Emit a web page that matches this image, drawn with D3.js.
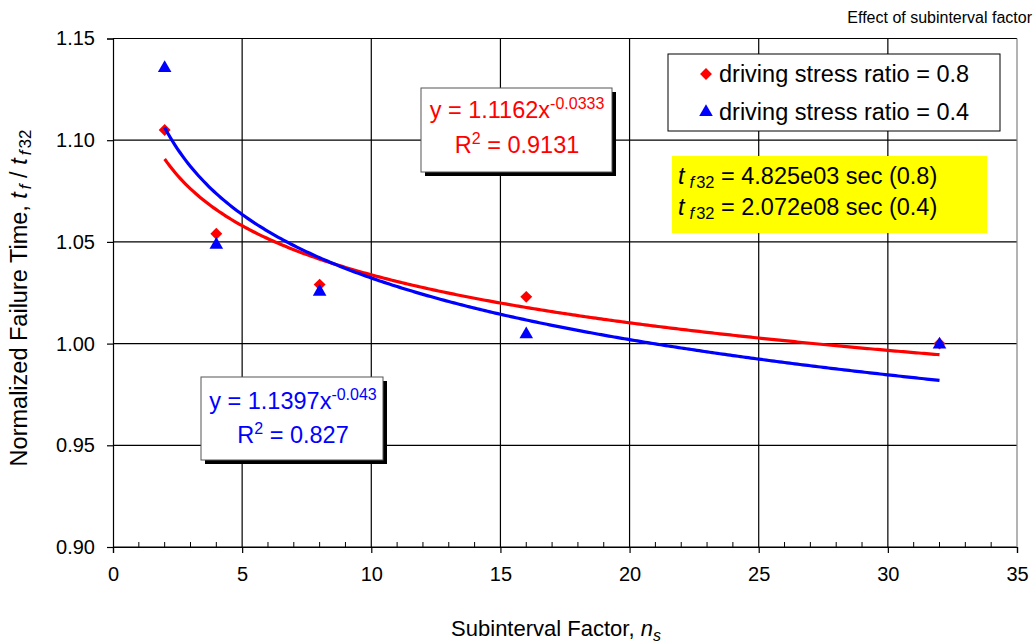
<!DOCTYPE html>
<html>
<head>
<meta charset="utf-8">
<script src="https://cdn.jsdelivr.net/npm/d3@7"></script>
<style>
  body { margin: 0; background: #fff; }
  svg { display: block; font-family: "Liberation Sans", Arial, sans-serif; }
</style>
</head>
<body>
<svg id="chart" width="1036" height="643"></svg>
<script>
// ---- data ----
const subintervals = [2, 4, 8, 16, 32];
const ratio08 = [1.105, 1.054, 1.029, 1.023, 1.000];
const ratio04 = [1.136, 1.049, 1.026, 1.005, 1.000];
// power-law fits  y = a * x^b
const fit08 = [1.1162, -0.0333];
const fit04 = [1.1397, -0.043];
const r2Values = ["0.9131", "0.827"];
const xTicks = [0, 5, 10, 15, 20, 25, 30, 35];
const yTicks = [0.90, 0.95, 1.00, 1.05, 1.10, 1.15];
const legendLabels = ["driving stress ratio = 0.8", "driving stress ratio = 0.4"];
const tf32Labels = ["4.825e03 sec (0.8)", "2.072e08 sec (0.4)"];

const RED = "#ff0000", BLUE = "#0000ff";

const svg = d3.select("#chart");
const plotL = 113, plotR = 1017, plotT = 38.5, plotB = 547;

const x = d3.scaleLinear().domain([0, 35]).range([plotL, plotR]);
const y = d3.scaleLinear().domain([0.90, 1.15]).range([plotB, plotT]);

// gridlines
svg.append("g").selectAll("line").data(yTicks).join("line")
  .attr("x1", plotL).attr("x2", plotR)
  .attr("y1", d => y(d)).attr("y2", d => y(d))
  .attr("stroke", "#000").attr("stroke-width", 1.2);
svg.append("g").selectAll("line").data(xTicks.slice(1, -1)).join("line")
  .attr("x1", d => x(d)).attr("x2", d => x(d))
  .attr("y1", plotT).attr("y2", plotB)
  .attr("stroke", "#000").attr("stroke-width", 1.2);
// right border
svg.append("line").attr("x1", plotR).attr("x2", plotR).attr("y1", plotT).attr("y2", plotB)
  .attr("stroke", "#808080").attr("stroke-width", 1.2);

// x axis: major ticks outside, minor ticks inside
const xAxis = d3.axisBottom(x).tickValues(xTicks).tickSize(6).tickPadding(14)
  .tickFormat(d3.format("d"));
const gx = svg.append("g").attr("transform", `translate(0,${plotB})`).call(xAxis);
gx.select(".domain").attr("stroke", "#000").attr("stroke-width", 1.2);
gx.selectAll(".tick line").attr("stroke-width", 1.2);
gx.selectAll(".tick text").attr("font-size", 20).attr("font-family", "Liberation Sans, Arial, sans-serif").attr("fill", "#000");
const minorX = d3.range(0, 35.01, 1).filter(v => v % 5 !== 0);
svg.append("g").selectAll("line").data(minorX).join("line")
  .attr("x1", d => x(d)).attr("x2", d => x(d))
  .attr("y1", plotB).attr("y2", plotB - 5)
  .attr("stroke", "#000").attr("stroke-width", 1);

// y axis
const yAxis = d3.axisLeft(y).tickValues(yTicks).tickSize(6).tickPadding(12)
  .tickFormat(d3.format(".2f"));
const gy = svg.append("g").attr("transform", `translate(${plotL},0)`).call(yAxis);
gy.select(".domain").attr("stroke", "#000").attr("stroke-width", 1.2);
gy.selectAll(".tick line").attr("stroke-width", 1.2);
gy.selectAll(".tick text").attr("font-size", 20).attr("font-family", "Liberation Sans, Arial, sans-serif").attr("fill", "#000");

// markers
const diamond = d3.symbol().type(d3.symbolDiamond2).size(90);
const triangle = d3.symbol().type(d3.symbolTriangle).size(80);
svg.append("g").selectAll("path").data(subintervals).join("path")
  .attr("d", diamond)
  .attr("transform", (d, i) => `translate(${x(d)},${y(ratio08[i])})`)
  .attr("fill", RED);
svg.append("g").selectAll("path").data(subintervals).join("path")
  .attr("d", triangle)
  .attr("transform", (d, i) => `translate(${x(d)},${y(ratio04[i]) + 1})`)
  .attr("fill", BLUE);

// power trendlines
const line = d3.line().x(d => x(d[0])).y(d => y(d[1]));
function powerCurve(coef) {
  return d3.range(2, 32.001, 0.1).map(v => [v, coef[0] * Math.pow(v, coef[1])]);
}
svg.append("path").attr("d", line(powerCurve(fit08)))
  .attr("fill", "none").attr("stroke", RED).attr("stroke-width", 3.2);
svg.append("path").attr("d", line(powerCurve(fit04)))
  .attr("fill", "none").attr("stroke", BLUE).attr("stroke-width", 3.2);

// equation boxes
function eqBox(bx, by, bw, bh, coef, r2, color, cx, base1, base2) {
  const g = svg.append("g");
  g.append("rect").attr("x", bx + 4).attr("y", by + 4).attr("width", bw).attr("height", bh).attr("fill", "#000");
  g.append("rect").attr("x", bx).attr("y", by).attr("width", bw).attr("height", bh)
    .attr("fill", "#fff").attr("stroke", "#555").attr("stroke-width", 1);
  const t1 = g.append("text").attr("x", cx).attr("y", base1).attr("text-anchor", "middle")
    .attr("font-size", 23.5).attr("fill", color);
  t1.append("tspan").text(`y = ${coef[0]}x`);
  t1.append("tspan").attr("dy", -9).attr("font-size", 16).text(String(coef[1]));
  const t2 = g.append("text").attr("x", cx).attr("y", base2).attr("text-anchor", "middle")
    .attr("font-size", 23.5).attr("fill", color);
  t2.append("tspan").text("R");
  t2.append("tspan").attr("dy", -9).attr("font-size", 16).text("2");
  t2.append("tspan").attr("dy", 9).text(` = ${r2}`);
}
eqBox(421, 88, 191, 84, fit08, r2Values[0], RED, 517, 118, 153);
eqBox(201, 377, 182, 83, fit04, r2Values[1], BLUE, 293, 409, 443);

// legend
const lg = svg.append("g");
lg.append("rect").attr("x", 668).attr("y", 54).attr("width", 332).attr("height", 77)
  .attr("fill", "#fff").attr("stroke", "#000").attr("stroke-width", 1);
lg.append("path").attr("d", diamond).attr("transform", "translate(706,74)").attr("fill", RED);
lg.append("path").attr("d", triangle).attr("transform", "translate(706,112)").attr("fill", BLUE);
lg.selectAll("text").data(legendLabels).join("text")
  .attr("x", 719).attr("y", (d, i) => 82 + i * 38)
  .attr("font-size", 23.5).attr("fill", "#000").text(d => d);

// t_f32 annotation
const yb = svg.append("g");
yb.append("rect").attr("x", 672).attr("y", 156).attr("width", 315).attr("height", 77).attr("fill", "#ffff00");
tf32Labels.forEach((lab, i) => {
  const t = yb.append("text").attr("x", 678).attr("y", 184 + i * 31).attr("font-size", 23.5).attr("fill", "#000");
  t.append("tspan").attr("font-style", "italic").text("t");
  t.append("tspan").attr("dx", 5).attr("dy", 4).attr("font-size", 16.5).attr("font-style", "italic").text("f");
  t.append("tspan").attr("dx", 2).attr("font-size", 16.5).text("32");
  t.append("tspan").attr("dy", -4).text(` = ${lab}`);
});

// title
svg.append("text").attr("x", 1032).attr("y", 23).attr("text-anchor", "end")
  .attr("font-size", 16).attr("fill", "#000").text("Effect of subinterval factor");

// axis titles
const xt = svg.append("text").attr("x", 556).attr("y", 636).attr("text-anchor", "middle")
  .attr("font-size", 22).attr("fill", "#000");
xt.append("tspan").text("Subinterval Factor, ");
xt.append("tspan").attr("font-style", "italic").text("n");
xt.append("tspan").attr("dy", 5).attr("font-size", 16).attr("font-style", "italic").text("s");

const yt = svg.append("text").attr("transform", "translate(27,298) rotate(-90)")
  .attr("text-anchor", "middle").attr("font-size", 23.5).attr("fill", "#000");
yt.append("tspan").text("Normalized Failure Time, ");
yt.append("tspan").attr("font-style", "italic").text("t");
yt.append("tspan").attr("dy", 4).attr("dx", 3).attr("font-size", 17).attr("font-style", "italic").text("f");
yt.append("tspan").attr("dy", -4).text(" / ");
yt.append("tspan").attr("font-style", "italic").text("t");
yt.append("tspan").attr("dy", 4).attr("dx", 3).attr("font-size", 17).attr("font-style", "italic").text("f");
yt.append("tspan").attr("dx", 2).attr("font-size", 17).text("32");
</script>
</body>
</html>
